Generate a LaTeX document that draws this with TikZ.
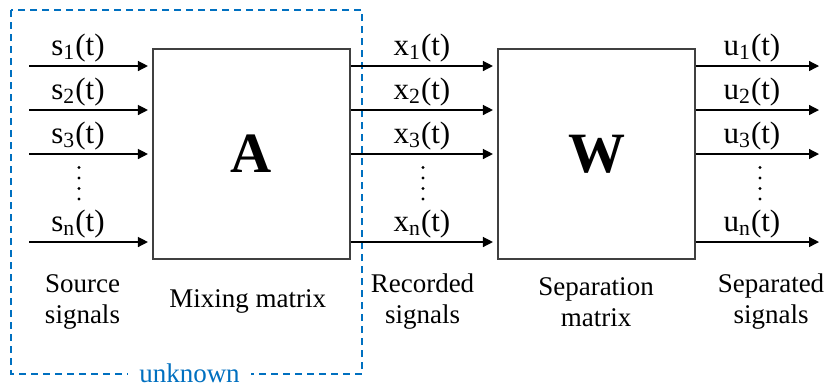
\documentclass[tikz,border=0pt]{standalone}
\usepackage{fontspec}
\setmainfont{Liberation Serif}
\usetikzlibrary{arrows.meta, calc}
\definecolor{unkblue}{RGB}{0, 112, 192}
\definecolor{boxgray}{RGB}{64, 64, 64}

\tikzset{
  sig/.style={line width=0.65pt, -{Triangle[length=5pt, width=5pt]}},
  mat/.style={draw=boxgray, line width=0.65pt, minimum width=98.5pt,
    minimum height=105pt, inner sep=0pt, font=\fontsize{28.5}{30}\selectfont\bfseries},
  lbl/.style={anchor=base, inner sep=0pt, font=\fontsize{15.5}{17}\selectfont},
  capt/.style={align=center, inner sep=0pt, font=\fontsize{13.5}{15.5}\selectfont},
}

\begin{document}
\begin{tikzpicture}[x=0.5pt, y=-0.5pt]
  \useasboundingbox (0, 0) rectangle (825, 388);

  \node[mat] (A) at (251.5, 154) { A };
  \node[mat] (W) at (596.5, 154) { W };

  % unknown part
  \draw[unkblue, line width=1.25pt, dash pattern=on 3.5pt off 2.5pt] (11, 10) rectangle (362, 374);
  \node[unkblue, fill=white, anchor=base, inner xsep=5.5pt, inner ysep=1pt,
    font=\fontsize{13.5}{15}\selectfont] (unk) at (189.5, 382) { unknown };

  \foreach \i/\y in {1/66, 2/110, 3/154, n/242} {
    \coordinate (s\i) at (29, \y);
    \coordinate (u\i) at (819, \y);
    \draw[sig, shorten >=2.2pt] (s\i) -- (A.west |- s\i);
    \draw[sig, shorten >=2.2pt] (A.east |- s\i) -- (W.west |- s\i);
    \draw[sig] (W.east |- s\i) -- (u\i);
    \node[lbl] (ls\i) at (78, \y-10.5) { s\textsubscript{\i}(t) };
    \node[lbl] (lx\i) at (422, \y-10.5) { x\textsubscript{\i}(t) };
    \node[lbl] (lu\i) at (752, \y-10.5) { u\textsubscript{\i}(t) };
  }

  \foreach \x in {79, 423, 760}
    \foreach \k in {0, ..., 3}
      \fill (\x, 167.5+10.5*\k) circle (0.85pt);

  \node[capt] (src) at (82.5, 302) { Source\\signals };
  \node[capt] (mix) at (251, 301) { Mixing matrix };
  \node[capt] (rec) at (422.5, 302) { Recorded\\signals };
  \node[capt] (sep) at (596, 302) { Separation\\matrix };
  \node[capt] (out) at (771, 302) { Separated\\signals };

\end{tikzpicture}
\end{document}
